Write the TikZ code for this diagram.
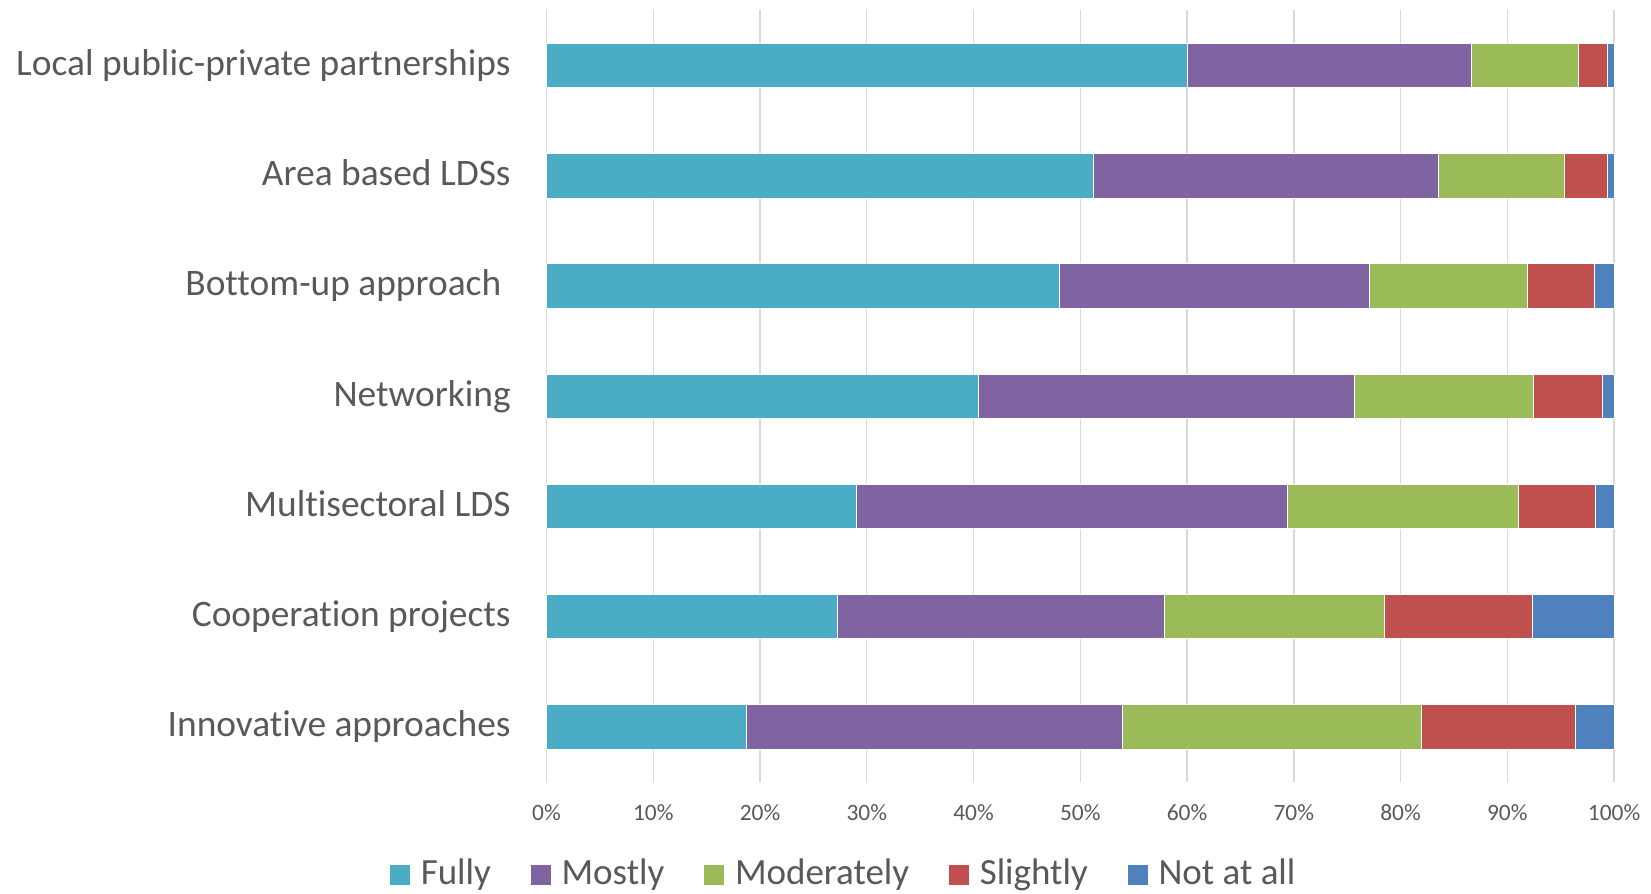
\documentclass[tikz,border=0pt]{standalone}
\usepackage{fontspec}
\setmainfont{Carlito}[Ligatures=NoCommon]
\definecolor{txtgray}{HTML}{595959}
\definecolor{gridgray}{HTML}{D9D9D9}
\definecolor{fully}{HTML}{4BACC6}
\definecolor{mostly}{HTML}{8064A2}
\definecolor{moderately}{HTML}{9BBB59}
\definecolor{slightly}{HTML}{C0504D}
\definecolor{notatall}{HTML}{4F81BD}
\def\xo{546.5}
\def\pc{10.676}

\begin{document}
\begin{tikzpicture}[x=0.5pt,y=-0.5pt,
    catlabel/.style={anchor=base east,inner sep=0pt,text=txtgray,font=\fontsize{18.7}{18.7}\selectfont},
    ticklabel/.style={anchor=base,inner sep=0pt,text=txtgray,font=\fontsize{11.7}{11.7}\selectfont},
    legbox/.style={minimum size=10pt,inner sep=0pt},
    legtext/.style={anchor=base west,inner sep=0pt,text=txtgray,font=\fontsize{18.5}{18.5}\selectfont},
    seg/.style={draw=white,line width=0.3pt}]
  \useasboundingbox (0,0) rectangle (1651,894);
  % grid and percentages
  \foreach \t in {0,10,...,100}{
    \draw[gridgray,line width=0.7pt] ({\xo+\pc*\t},10) -- ({\xo+\pc*\t},782);
    \node[ticklabel] (tick\t) at ({\xo+\pc*\t},820.5) {\t\%};
  }
  % stacked bars
  \foreach \i/\name/\a/\b/\c/\d in {
      1/Local public-private partnerships/60.0/86.6/96.6/99.4,
      2/Area based LDSs/51.2/83.5/95.3/99.4,
      3/Bottom-up approach\kern4.7pt/48.0/77.1/91.9/98.1,
      4/Networking/40.4/75.7/92.4/98.9,
      5/Multisectoral LDS/29.0/69.4/91.0/98.2,
      6/Cooperation projects/27.2/57.9/78.5/92.3,
      7/Innovative approaches/18.7/53.9/81.9/96.4}{
    \pgfmathsetmacro\yt{43.3+110.2*(\i-1)}
    \pgfmathsetmacro\yb{\yt+44.3}
    \draw[seg,fill=fully] (\xo,\yt) rectangle ({\xo+\pc*\a},\yb);
    \draw[seg,fill=mostly] ({\xo+\pc*\a},\yt) rectangle ({\xo+\pc*\b},\yb);
    \draw[seg,fill=moderately] ({\xo+\pc*\b},\yt) rectangle ({\xo+\pc*\c},\yb);
    \draw[seg,fill=slightly] ({\xo+\pc*\c},\yt) rectangle ({\xo+\pc*\d},\yb);
    \draw[seg,fill=notatall] ({\xo+\pc*\d},\yt) rectangle ({\xo+\pc*100},\yb);
    \node[catlabel] (cat\i) at (511,{\yt+32.2}) {\name};
  }
  % legend
  \node[legbox,fill=fully] (kfully) at (400,874.5) {};
  \node[legtext] (lfully) at ([xshift=5pt]kfully.south east) {Fully};
  \node[legbox,fill=mostly,anchor=south west] (kmostly) at ([xshift=19.5pt]lfully.base east) {};
  \node[legtext] (lmostly) at ([xshift=5pt]kmostly.south east) {Mostly};
  \node[legbox,fill=moderately,anchor=south west] (kmoderately) at ([xshift=19.5pt]lmostly.base east) {};
  \node[legtext] (lmoderately) at ([xshift=5pt]kmoderately.south east) {Moderately};
  \node[legbox,fill=slightly,anchor=south west] (kslightly) at ([xshift=19.5pt]lmoderately.base east) {};
  \node[legtext] (lslightly) at ([xshift=5pt]kslightly.south east) {Slightly};
  \node[legbox,fill=notatall,anchor=south west] (knotatall) at ([xshift=19.5pt]lslightly.base east) {};
  \node[legtext] (lnotatall) at ([xshift=5pt]knotatall.south east) {Not at all};
\end{tikzpicture}
\end{document}
